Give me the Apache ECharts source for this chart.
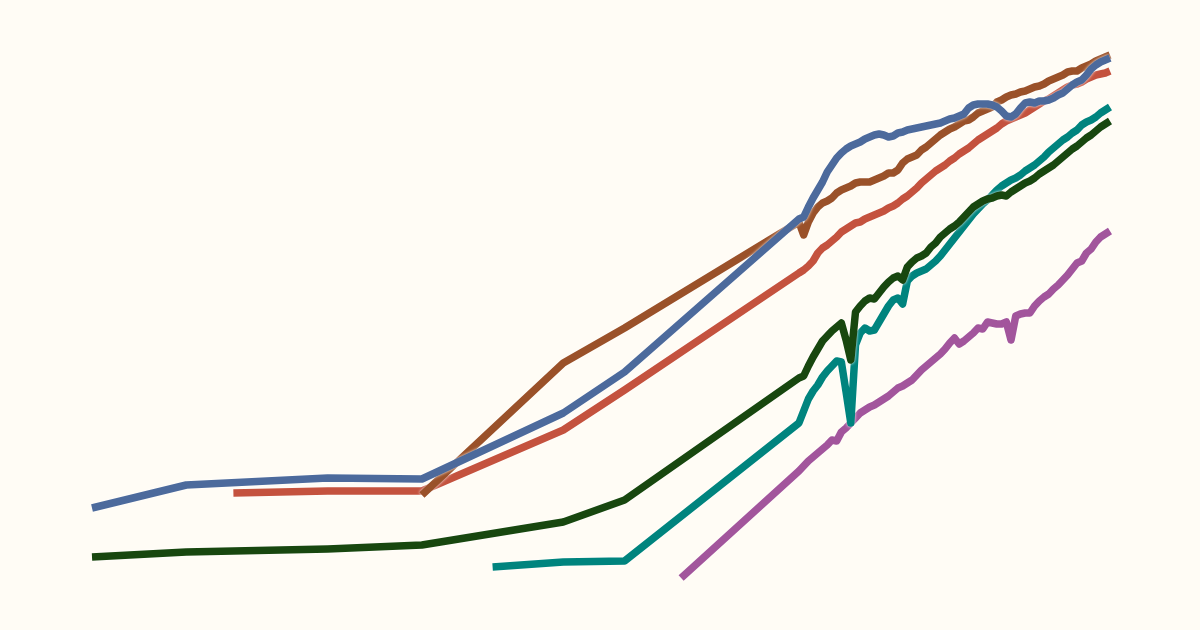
<!DOCTYPE html>
<html>
<head>
<meta charset="utf-8">
<script src="https://cdn.jsdelivr.net/npm/echarts@6/dist/echarts.min.js"></script>
<style>
html,body{margin:0;padding:0;background:#fffcf5;}
#chart{width:1200px;height:630px;}
</style>
</head>
<body>
<div id="chart"></div>
<script>
// Years for the annual part of each series
var annualYears = [1950,1951,1952,1953,1954,1955,1956,1957,1958,1959,
  1960,1961,1962,1963,1964,1965,1966,1967,1968,1969,
  1970,1971,1972,1973,1974,1975,1976,1977,1978,1979,
  1980,1981,1982,1983,1984,1985,1986,1987,1988,1989,
  1990,1991,1992,1993,1994,1995,1996,1997,1998,1999,
  2000,2001,2002,2003,2004,2005,2006,2007,2008,2009,
  2010,2011,2012,2013,2014,2015,2016];

// Benchmark (sparse) years and values, per series (arbitrary units)
var blueEarlyYears = [1800,1820,1850,1870,1900,1913];
var blueEarly = [122,145,152,151,217,258];
var blueAnnual = [411,413,423,432,440,448,458,465,472,477,
  481,484,486,488,491,493,495,496,495,493,
  494,497,498,500,501,502,503,504,505,506,
  507,509,511,512,514,516,522,525,526,526,
  526,525,523,519,514,513,516,522,527,528,
  527,529,529,530,532,535,537,541,545,548,
  550,555,561,565,568,570,572];

var brownEarlyYears = [1870,1900,1913];
var brownEarly = [135,267,302];
var brownAnnual = [408,395,408,417,423,427,429,432,437,440,
  442,444,447,448,448,448,450,452,454,457,
  457,460,467,471,473,475,480,483,487,491,
  495,498,501,503,506,509,510,513,517,519,
  521,523,528,530,533,535,536,538,539,541,
  543,544,546,549,551,553,555,558,559,559,
  562,564,566,569,571,573,575];

var redEarlyYears = [1830,1850,1870,1900,1913];
var redEarly = [137,139,139,200,240];
var redAnnual = [357,360,364,369,377,382,385,389,393,398,
  401,404,407,408,411,413,415,417,419,422,
  424,427,431,434,438,442,447,451,455,459,
  462,465,469,472,476,479,482,486,490,493,
  496,499,502,506,509,511,513,515,517,520,
  523,526,529,531,534,537,540,543,545,546,
  548,551,553,555,556,557,559];

var greenEarlyYears = [1800,1820,1850,1870,1900,1913];
var greenEarly = [73,78,81,85,108,130];
var greenAnnual = [252,254,264,273,281,289,294,299,303,307,
  290,270,318,324,329,332,331,337,343,348,
  352,354,350,363,368,372,374,377,383,387,
  393,397,401,404,408,413,418,423,426,429,
  431,432,434,435,434,438,441,444,447,449,
  452,456,459,462,465,469,473,477,481,484,
  488,492,495,499,503,506,509];

var tealEarlyYears = [1885,1900,1913];
var tealEarly = [63,68,69];
var tealAnnual = [207,219,231,239,245,253,259,264,269,268,
  238,207,285,297,302,299,300,308,316,324,
  330,332,326,349,354,357,359,361,365,369,
  374,380,386,392,398,404,410,416,421,426,
  430,435,440,444,447,450,452,455,459,462,
  465,469,473,478,482,486,490,493,497,500,
  505,508,510,513,517,520,523];

var purpleEarlyYears = [1925];
var purpleEarly = [52];
var purpleAnnual = [159,164,169,173,177,181,185,190,189,198,
  202,207,212,217,220,223,225,228,231,234,
  238,242,244,247,250,255,260,264,268,272,
  276,281,287,292,286,289,293,297,302,301,
  308,307,306,306,308,290,314,316,317,317,
  324,329,333,336,341,345,350,355,361,367,
  369,377,381,388,393,396,399];

function build(ey, ev, av) {
  var out = [];
  for (var i = 0; i < ey.length; i++) out.push([ey[i], ev[i]]);
  for (var j = 0; j < annualYears.length; j++) out.push([annualYears[j], av[j]]);
  return out;
}

var seriesDefs = [
  {name:'Purple', color:'#a2559c', data: build(purpleEarlyYears, purpleEarly, purpleAnnual)},
  {name:'Teal', color:'#00847e', data: build(tealEarlyYears, tealEarly, tealAnnual)},
  {name:'Green', color:'#18470f', data: build(greenEarlyYears, greenEarly, greenAnnual)},
  {name:'Red', color:'#c4523e', data: build(redEarlyYears, redEarly, redAnnual)},
  {name:'Brown', color:'#9a5129', data: build(brownEarlyYears, brownEarly, brownAnnual)},
  {name:'Blue', color:'#4c6a9c', data: build(blueEarlyYears, blueEarly, blueAnnual)}
];

var chart = echarts.init(document.getElementById('chart'), null, {renderer:'canvas'});
chart.setOption({
  backgroundColor: '#fffcf5',
  animation: false,
  grid: {left: 92, right: 90, top: 0, bottom: 0},
  xAxis: {type: 'value', min: 1800, max: 2016, show: false},
  yAxis: {type: 'value', min: 0, max: 630, show: false},
  series: seriesDefs.map(function (s) {
    return {
      name: s.name,
      type: 'line',
      data: s.data,
      showSymbol: false,
      symbol: 'none',
      lineStyle: {
        color: s.color,
        width: 7.5,
        join: 'round',
        shadowColor: 'rgba(255,255,255,0.95)',
        shadowBlur: 3
      },
      emphasis: {disabled: true}
    };
  })
});
</script>
</body>
</html>
